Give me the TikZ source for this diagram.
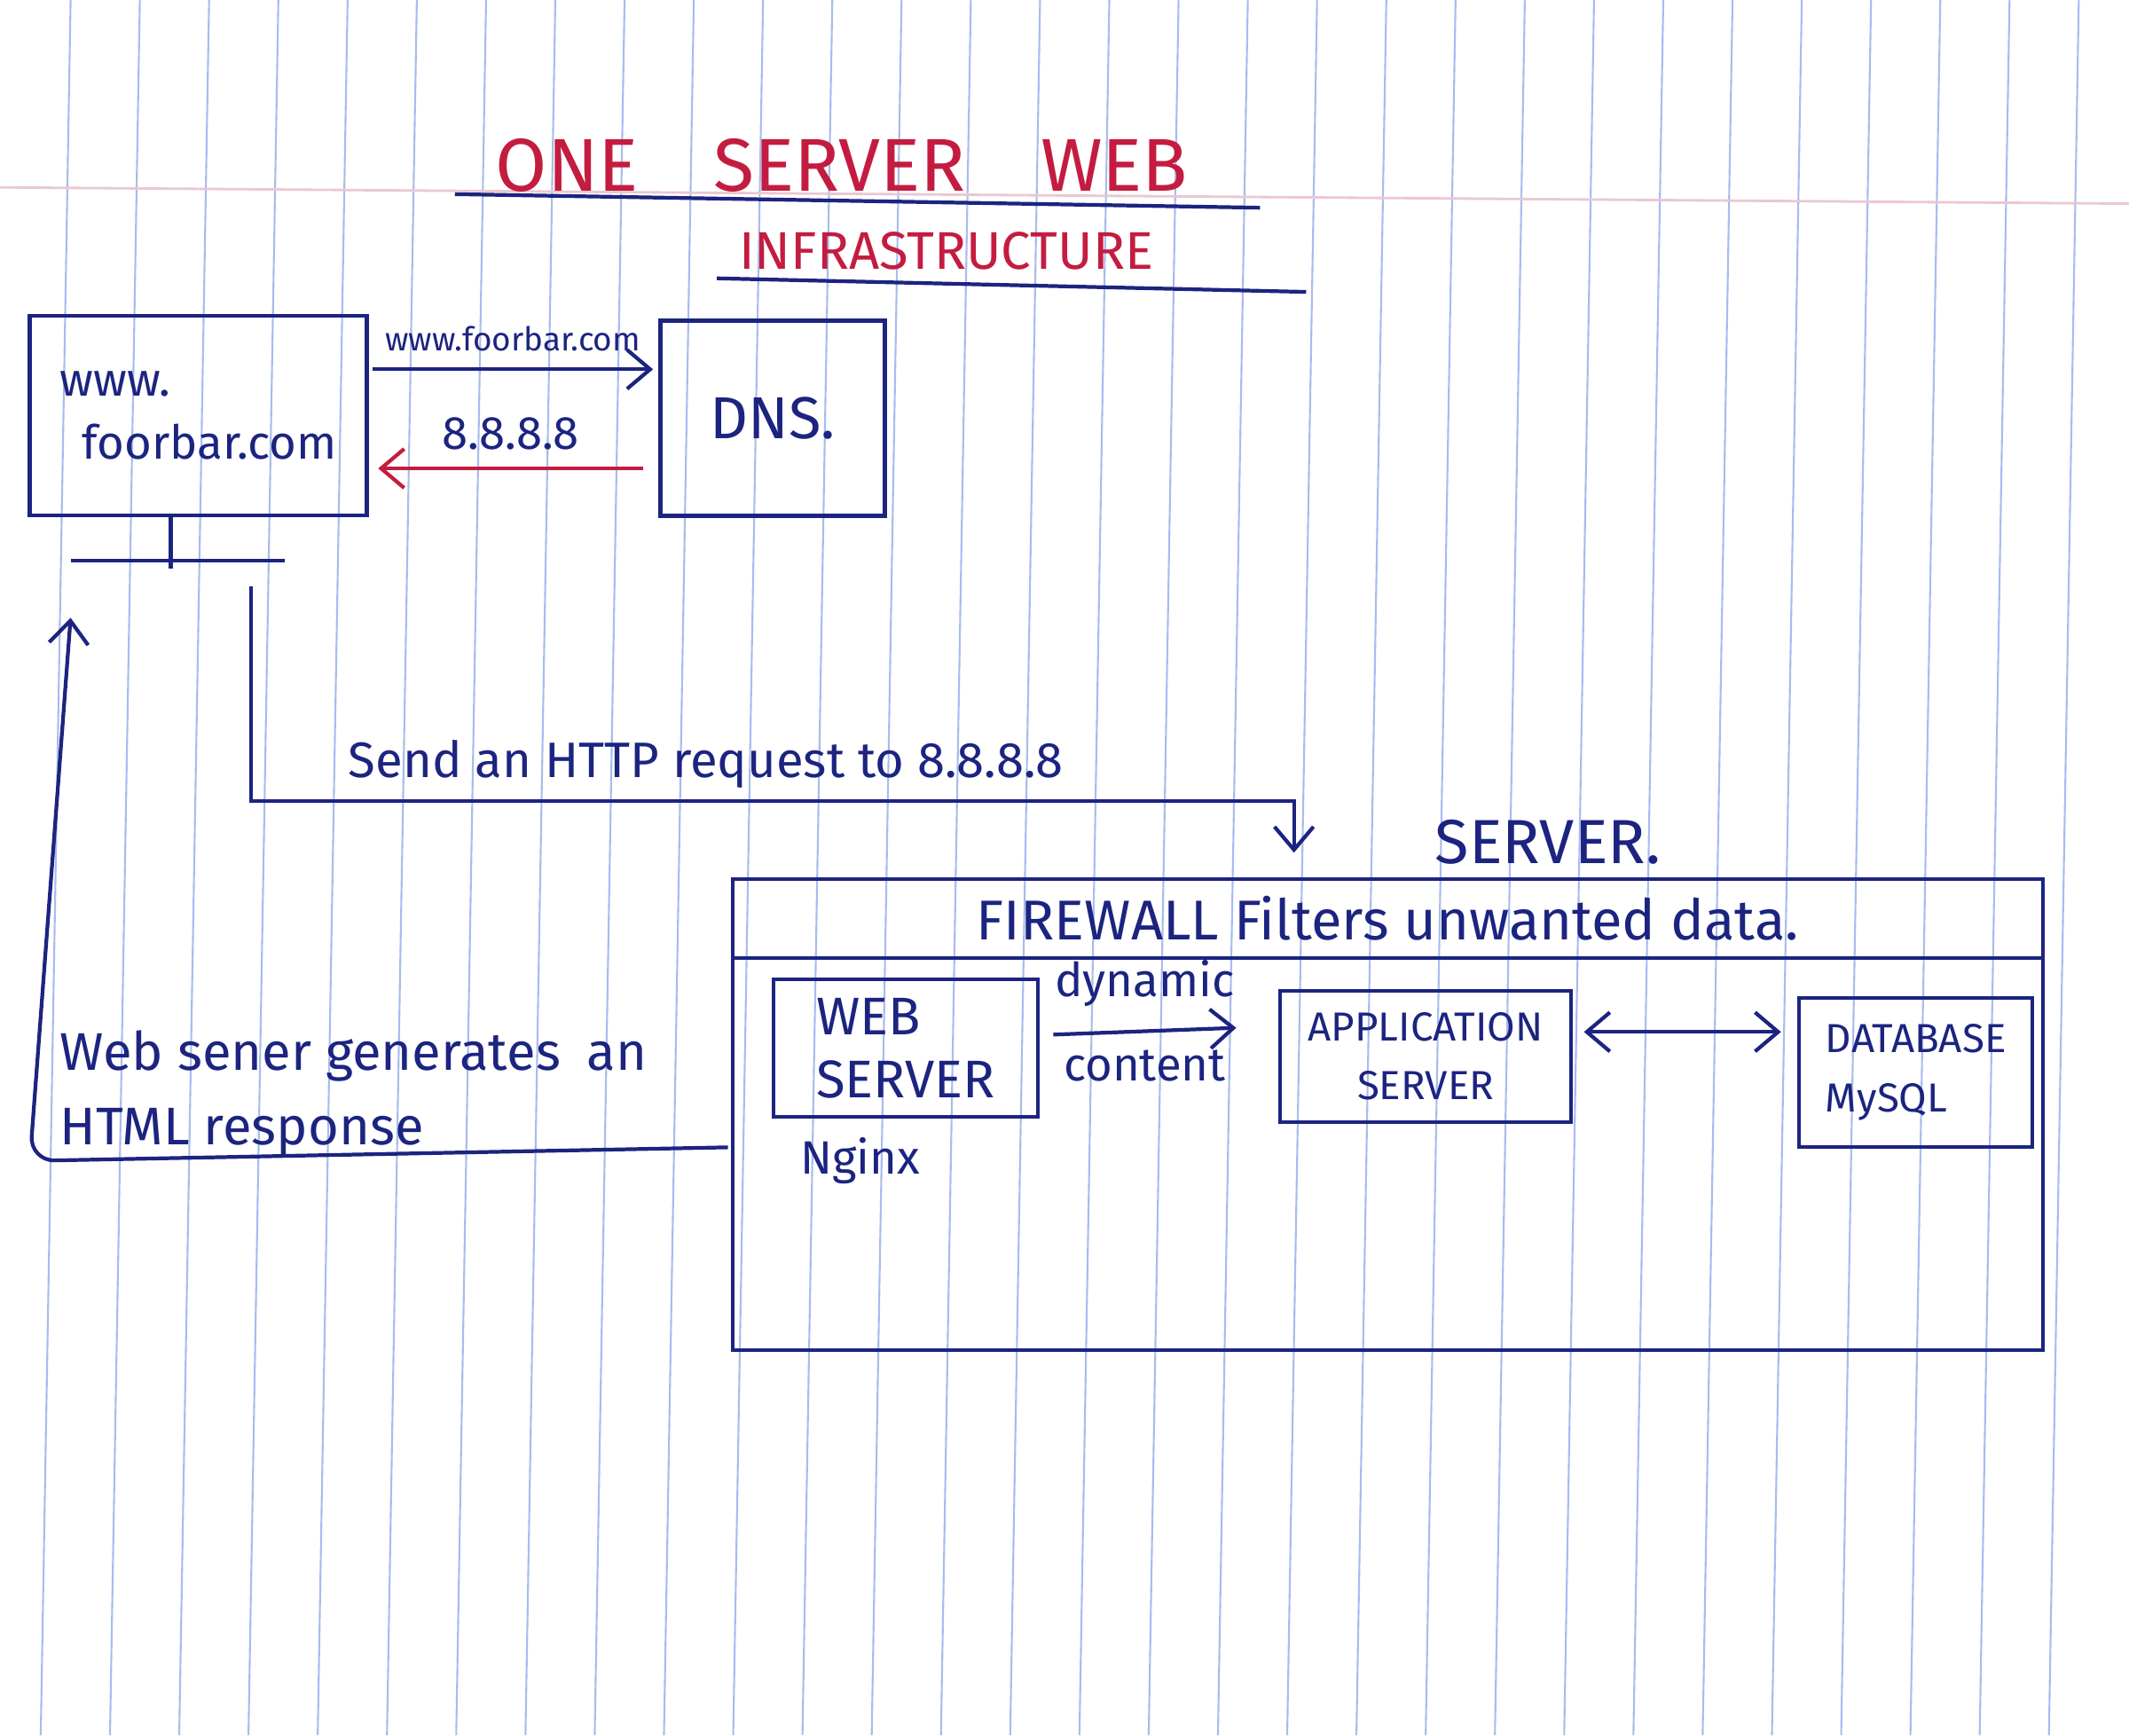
\documentclass[tikz,border=0pt]{standalone}
\usepackage{fontspec}
\setmainfont{Fira Sans}
\usetikzlibrary{arrows.meta,positioning}
\definecolor{ink}{RGB}{28,36,128}
\definecolor{redink}{RGB}{196,28,64}
\definecolor{paperrule}{RGB}{168,188,238}
\definecolor{marginrule}{RGB}{234,200,210}

\begin{document}
\begin{tikzpicture}[x=0.015306cm, y=-0.015306cm, font=\fontsize{15}{18}\selectfont, color=ink]
\tikzset{
  box/.style={rectangle, draw=ink, line width=1.2pt, align=center, inner sep=2pt},
  arr/.style={->, >={Straight Barb[length=2.6mm, width=4.4mm]}, line width=1.2pt},
  pen/.style={line width=1.2pt},
}
% paper
\fill[white] (0,0) rectangle (1568,1278);
\useasboundingbox (0,0) rectangle (1568,1278);
\foreach \i in {0,...,29}
  \draw[paperrule, line width=0.6pt] (52+51*\i,0) -- (30+51*\i,1278);
\draw[marginrule, line width=0.8pt] (0,138) -- (1568,150);

% title
\node[redink, font=\fontsize{24}{28}\selectfont] (title) at (620,122) {ONE\quad SERVER\quad WEB};
\node[redink, font=\fontsize{17}{20}\selectfont] (subtitle) at (697,185) {INFRASTRUCTURE};
\draw[pen] (335,143) -- (928,153);
\draw[pen] (528,205) -- (962,215);

% client and dns
\node[box, minimum width=3.80cm, minimum height=2.25cm, align=left] (client) at (146,306) {www.\\[2pt]\hspace{0.25cm}foorbar.com};
\node[box, minimum width=2.53cm, minimum height=2.20cm, font=\fontsize{19}{22}\selectfont] (dns) at (569,308) {DNS.};
\draw[arr] ([shift={(3,-34)}]client.east) -- node[above=2pt, font=\fontsize{10.5}{13}\selectfont] {www.foorbar.com} ([shift={(-4,-36)}]dns.west);
\draw[arr, redink] ([shift={(-11,37)}]dns.west) -- node[above=2pt, text=ink] {8.8.8.8} ([shift={(7,39)}]client.east);

% tee below client
\draw[pen] ([xshift=-0.31cm]client.south) -- ++(0,38);
\coordinate (barL) at (52,413);
\coordinate (barR) at (210,413);
\draw[pen] (barL) -- (barR);

% request
\coordinate (reqstart) at (185,432);
\coordinate (reqturn) at (953,590);
\coordinate (reqend) at (953,628);
\draw[arr] (reqstart) |- (reqturn) -- (reqend);
\node[font=\fontsize{16}{19}\selectfont] (reqlbl) at (520,563) {Send an HTTP request to 8.8.8.8};

% server
\node[box, minimum width=14.77cm, minimum height=5.31cm] (server) at (1022,821) {};
\node[box, minimum width=14.77cm, minimum height=0.89cm, font=\fontsize{18}{22}\selectfont, anchor=north] (fw) at (server.north) {FIREWALL Filters unwanted data.};
\node[font=\fontsize{20}{24}\selectfont] (srvlbl) at (1140,620) {SERVER.};

\node[box, minimum width=2.98cm, minimum height=1.55cm, align=left, font=\fontsize{17}{20}\selectfont] (web) at (667,772) {WEB\\SERVER};
\node[anchor=north west] (nginx) at ([shift={(13,6)}]web.south west) {Nginx};
\node[box, minimum width=3.28cm, minimum height=1.48cm, font=\fontsize{13}{19}\selectfont] (app) at (1050,778) {APPLICATION\\SERVER};
\node[box, minimum width=2.63cm, minimum height=1.68cm, align=left, font=\fontsize{13}{19}\selectfont] (db) at (1411,790) {DATABASE\\MySQL};

\draw[arr] ([shift={(10,-10)}]web.east) -- node[above=4pt] {dynamic} node[below=2pt] {content} ([shift={(-31,-21)}]app.west);
\draw[arr, <->] ([shift={(8,-18)}]app.east) -- ([shift={(-12,-30)}]db.west);

% response
\coordinate (respturn) at (22,855);
\coordinate (resptip) at (52,455);
\draw[arr, rounded corners=8pt] ([shift={(-2,24)}]server.west) -- (respturn) -- (resptip);
\node[anchor=west, align=left, font=\fontsize{17}{24}\selectfont] (resplbl) at (36,805) {Web sener generates\enspace an\\HTML response};
\end{tikzpicture}
\end{document}
